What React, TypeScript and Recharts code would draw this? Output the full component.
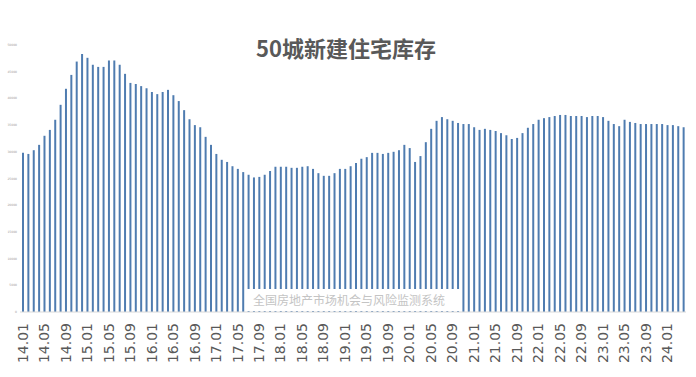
import React from "react";
import { BarChart, Bar, XAxis, YAxis } from "recharts";

// Monthly new-home inventory across 50 cities, Jan 2014 – Apr 2024
const y2014 = [29800, 29600, 30300, 31300, 33000, 34100, 36000, 38800, 41800, 44400, 46900, 48300];
const y2015 = [47600, 46300, 45900, 45900, 47100, 47100, 46300, 44600, 42900, 42700, 42300, 41900];
const y2016 = [41200, 40800, 41200, 41600, 40600, 39500, 37800, 36100, 35000, 34600, 32800, 31300];
const y2017 = [29600, 28500, 28100, 27300, 26800, 26200, 25700, 25200, 25300, 25700, 26400, 27200];
const y2018 = [27200, 27200, 27000, 27000, 27200, 27300, 26800, 26000, 25500, 25500, 26000, 26800];
const y2019 = [26800, 27300, 27900, 28700, 29000, 29800, 29800, 29600, 29800, 30000, 30300, 31300];
const y2020 = [30700, 28100, 29200, 31800, 34300, 35800, 36500, 36100, 35800, 35400, 35200, 35200];
const y2021 = [34600, 34100, 34300, 34100, 33900, 33500, 33100, 32400, 32600, 33500, 34500, 35200];
const y2022 = [36000, 36300, 36500, 36700, 36900, 36900, 36700, 36700, 36700, 36500, 36700, 36700];
const y2023 = [36500, 35800, 35200, 34800, 36000, 35600, 35400, 35200, 35200, 35200, 35200, 35200];
const y2024 = [35000, 35000, 34800, 34600];

const years = [14, 15, 16, 17, 18, 19, 20, 21, 22, 23, 24];
const yearValues = [y2014, y2015, y2016, y2017, y2018, y2019, y2020, y2021, y2022, y2023, y2024];

const yTicks = [0, 5000, 10000, 15000, 20000, 25000, 30000, 35000, 40000, 45000, 50000];

const title = "50城新建住宅库存";
const sourceNote = "全国房地产市场机会与风险监测系统";

const data = years.flatMap((yr, yi) =>
  yearValues[yi].map((v, mi) => ({
    month: `${yr}.${String(mi + 1).padStart(2, "0")}`,
    stock: v,
  }))
);

const XTick = (props: any) => {
  const { x, y, payload } = props;
  const ty = y + 11;
  return (
    <text
      x={x}
      y={ty}
      transform={`rotate(-90, ${x}, ${ty})`}
      textAnchor="end"
      dominantBaseline="central"
      fontSize={14}
      fontFamily="'DejaVu Sans', sans-serif"
      fill="#595959"
    >
      {payload.value}
    </text>
  );
};

export default function App() {
  return (
    <div style={{ position: "absolute", left: 0, top: 0, width: 696, height: 377, background: "#fff" }}>
      <BarChart
        width={696}
        height={377}
        data={data}
        margin={{ top: 45, right: 10, bottom: 0, left: 0 }}
      >
        <XAxis
          dataKey="month"
          interval={3}
          tick={<XTick />}
          tickLine={false}
          tickSize={0}
          tickMargin={0}
          height={65}
          axisLine={{ stroke: "#d9d9d9" }}
        />
        <YAxis
          width={20}
          domain={[0, 50000]}
          ticks={yTicks}
          interval={0}
          axisLine={false}
          tickLine={false}
          tickSize={0}
          tickMargin={3}
          tick={{ fontSize: 3, fill: "#9a9a9a", fontFamily: "'DejaVu Sans', sans-serif" }}
        />
        <Bar dataKey="stock" fill="#4f7cb0" barSize={2} isAnimationActive={false} />
      </BarChart>
      <div
        style={{
          position: "absolute",
          left: 0,
          width: 692,
          top: 33,
          textAlign: "center",
          fontFamily: "'Noto Sans CJK SC', sans-serif",
          fontWeight: 700,
          fontSize: 22,
          lineHeight: "28px",
          color: "#595959",
        }}
      >
        {title}
      </div>
      <div
        style={{
          position: "absolute",
          left: 247,
          top: 289,
          width: 213,
          height: 22,
          background: "#fff",
          fontFamily: "'Noto Sans CJK SC', sans-serif",
          fontSize: 12,
          lineHeight: "22px",
          color: "#c4c4c4",
          paddingLeft: 6,
          boxSizing: "border-box",
          whiteSpace: "nowrap",
        }}
      >
        {sourceNote}
      </div>
    </div>
  );
}
